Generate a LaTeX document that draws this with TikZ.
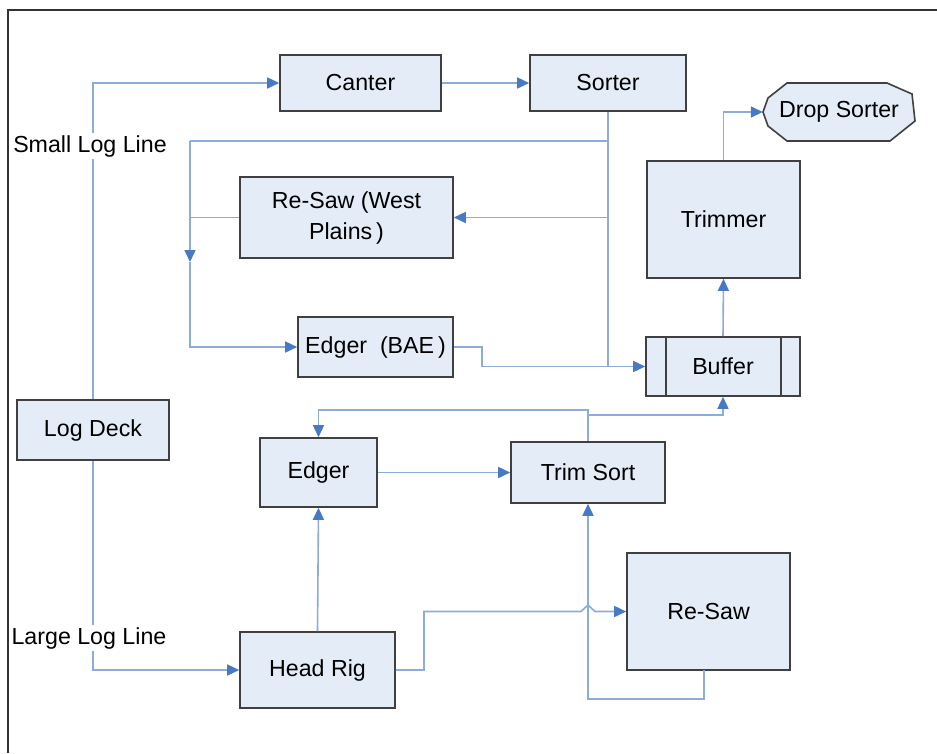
\documentclass[tikz,border=0pt]{standalone}
\usepackage{fontspec}
\setmainfont{Liberation Sans}
\usetikzlibrary{arrows.meta}
\definecolor{boxfill}{RGB}{228,236,247}
\definecolor{boxline}{RGB}{64,64,64}
\definecolor{conn}{RGB}{140,172,218}
\definecolor{tipc}{RGB}{72,122,196}
\tikzset{
  x=1pt, y=-1pt,
  pbox/.style={draw=boxline, line width=1.6pt, fill=boxfill, inner sep=0pt, align=center,
    font=\fontsize{23.2}{31}\selectfont},
  cline/.style={draw=conn, line width=1.6pt},
  carr/.style={cline, -{Triangle[length=12pt,width=11pt,color=tipc]}},
  lbl/.style={fill=white, inner sep=2pt, font=\fontsize{23.2}{28}\selectfont},
}
\begin{document}
\begin{tikzpicture}
\useasboundingbox (0,0) rectangle (937,753);
\fill[white] (0,0) rectangle (937,753);
% frame
\draw[line width=1.6pt, color=black!80] (8,753) -- (8,10) -- (937,10);

% nodes
\node[pbox, minimum width=161pt, minimum height=56pt] (canter) at (360.5,83) {Canter};
\node[pbox, minimum width=156pt, minimum height=56pt] (sorter) at (608,83) {Sorter};
\draw[boxline, line width=1.6pt, fill=boxfill]
  (787,83) -- (887,83) -- (912,94) -- (915,121) -- (890,141) -- (787,141)
  -- (768,126) -- (763,112) -- (768,98) -- cycle;
\node[inner sep=0pt, minimum width=152pt, minimum height=58pt,
  font=\fontsize{23.2}{28}\selectfont] (ds) at (839,112) {Drop Sorter};
\node[pbox, minimum width=153pt, minimum height=117pt] (trimmer) at (723.5,219.5) {Trimmer};
\node[pbox, minimum width=213pt, minimum height=81pt] (resawwp) at (346.5,217.5) {Re-Saw (West\\Plains\,)};
\node[pbox, minimum width=155pt, minimum height=60pt] (edgerbae) at (375.5,347) {Edger~~(BAE\,)};
\node[pbox, minimum width=154pt, minimum height=59pt] (buffer) at (723,366.5) {Buffer};
\draw[boxline, line width=1.6pt] (666,337) -- (666,396) (781,337) -- (781,396);
\node[pbox, minimum width=152pt, minimum height=60pt] (logdeck) at (93,430) {Log Deck};
\node[pbox, minimum width=117pt, minimum height=69pt] (edger) at (318.5,472.5) {Edger};
\node[pbox, minimum width=154pt, minimum height=61pt] (trimsort) at (588,472.5) {Trim Sort};
\node[pbox, minimum width=163pt, minimum height=117pt] (resaw) at (708.5,611.5) {Re-Saw};
\node[pbox, minimum width=155pt, minimum height=76pt] (headrig) at (317.5,670) {Head Rig};

% coordinates
\coordinate (jb) at (608,366.5);
\coordinate (s1) at (608,141);
\coordinate (l1) at (190,141);
\coordinate (lm) at (190,262);
\coordinate (s2) at (608,217.5);
\coordinate (l2) at (190,217.5);
\coordinate (e1) at (482,347);
\coordinate (e2) at (482,366.5);
\coordinate (t1) at (588,410);
\coordinate (t2) at (588,415);
\coordinate (h1) at (424,670);
\coordinate (h2) at (424,611.5);
\coordinate (b1) at (581,611.5);
\coordinate (b2) at (588,605);
\coordinate (b3) at (595,611.5);
\coordinate (r1) at (704,670);
\coordinate (r2) at (704,699);
\coordinate (r3) at (588,699);

% connectors
\draw[carr] (logdeck.north) |- (canter.west);
\draw[carr] (logdeck.south) |- (headrig.west);
\draw[carr] (canter.east) -- (sorter.west);
\draw[cline] (sorter.south) -- (jb);
\draw[cline] (s1) -- (l1);
\draw[carr] (l1) -- (lm);
\draw[carr] (lm) |- (edgerbae.west);
\draw[cline] (resawwp.west) -- (l2);
\draw[carr] (s2) -- (resawwp.east);
\draw[cline] (edgerbae.east) -- (e1) -- (e2) -- (jb);
\draw[carr] (jb) -- (buffer.west);
\draw[carr] (trimmer.north) |- (ds.west);
\draw[carr] (buffer.north) -- (trimmer.south);
\draw[carr] (trimsort.north) -- (t1) -| (edger.north);
\draw[carr] (t2) -| (buffer.south);
\draw[carr] (edger.east) -- (trimsort.west);
\draw[carr] (headrig.north) -- (edger.south);
\draw[carr] (headrig.east) -- (h1) -- (h2) -- (b1) -- (b2) -- (b3) -- (resaw.west);
\draw[carr] (r1) -- (r2) -- (r3) -- (trimsort.south);

% labels
\node[lbl] (sll) at (90,146) {Small Log Line};
\node[lbl] (lll) at (89,638) {Large Log Line};
\end{tikzpicture}
\end{document}
